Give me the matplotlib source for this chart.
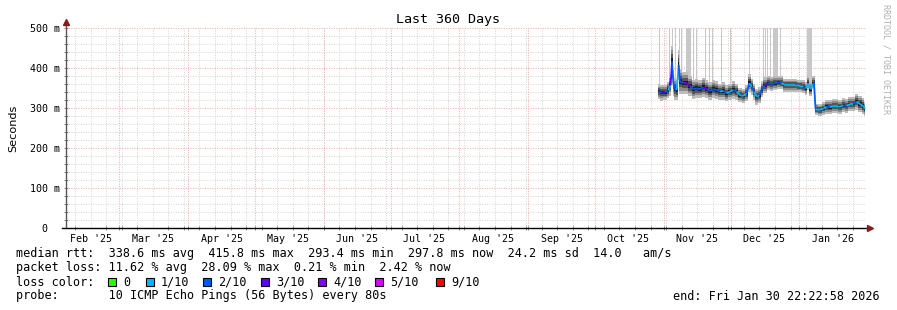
import numpy as np
import matplotlib
matplotlib.use("Agg")
import matplotlib.pyplot as plt
from matplotlib.collections import LineCollection
from matplotlib.patches import Rectangle
from datetime import datetime, timedelta

start = datetime(2025, 2, 4, 22, 22, 58)
span_days = 360

# days since start of graph, median rtt (ms), smoke half width (ms), loss (tenths)
days = [266.5, 268.0, 269.5, 271.0, 272.1, 272.7, 273.3, 274.0, 274.8, 275.7,
        276.3, 277.8, 279.3, 280.8, 282.3, 283.8, 285.3, 286.8, 288.3, 289.8,
        291.3, 292.8, 294.3, 295.8, 297.3, 298.8, 300.3, 301.8, 303.3, 304.8,
        306.3, 307.5, 308.6, 309.6, 310.8, 312.0, 313.1, 314.5, 316.0, 317.5,
        319.0, 320.5, 322.0, 323.5, 325.8, 328.0, 330.3, 331.8, 333.0, 334.0,
        335.1, 336.6, 337.3, 339.3, 340.8, 342.3, 343.8, 345.3, 346.8, 348.3,
        349.8, 351.3, 352.8, 354.3, 355.8, 357.3, 358.8, 359.6]
median = [341, 338, 339, 345, 357, 416, 362, 347, 345, 407,
          366, 363, 362, 355, 347, 349, 347, 352, 347, 343,
          347, 345, 341, 343, 337, 341, 345, 341, 332, 330,
          337, 362, 353, 341, 328, 332, 347, 357, 362, 360,
          362, 364, 363, 357, 357, 357, 355, 353, 349, 362,
          347, 363, 297, 295, 299, 303, 302, 305, 305, 303,
          307, 305, 310, 310, 316, 310, 305, 298]
spread = [18, 20, 18, 20, 26, 40, 32, 28, 26, 38,
          32, 28, 28, 26, 24, 24, 22, 24, 22, 22,
          22, 22, 20, 22, 20, 20, 22, 20, 18, 18,
          20, 22, 20, 20, 20, 20, 20, 20, 18, 18,
          18, 16, 16, 16, 16, 16, 16, 16, 16, 18,
          18, 16, 14, 14, 16, 18, 18, 18, 18, 18,
          18, 18, 18, 18, 20, 20, 20, 18]
loss = [2, 3, 2, 1, 3, 2, 2, 2, 1, 2,
        2, 4, 3, 2, 2, 2, 2, 3, 2, 2,
        2, 2, 1, 2, 1, 1, 2, 1, 1, 1,
        2, 1, 2, 1, 1, 2, 2, 3, 2, 2,
        2, 2, 1, 1, 1, 1, 1, 2, 1, 1,
        1, 2, 1, 1, 1, 2, 1, 1, 1, 1,
        2, 1, 1, 2, 1, 1, 1, 2]

# pings above the top of the graph: start day and width (days)
over_start = [266.9, 268.0, 271.5, 272.8, 274.0, 275.9, 276.8, 279.0, 282.3, 283.4,
              286.0, 287.5, 289.5, 290.7, 294.8, 298.9, 307.5, 313.6, 314.6, 315.6,
              316.9, 318.0, 321.4, 333.3]
over_width = [0.4, 0.4, 0.5, 0.5, 0.4, 0.4, 0.5, 2.2, 0.5, 0.5,
              0.4, 0.4, 0.5, 0.4, 0.4, 0.4, 0.5, 0.4, 0.4, 0.4,
              0.4, 2.2, 0.4, 2.6]

loss_colors = {0: "#26ff00", 1: "#00b8ff", 2: "#0059ff", 3: "#5e00ff",
               4: "#7e00ff", 5: "#dd00ff", 9: "#ff0000"}
legend_loss = [0, 1, 2, 3, 4, 5, 9]
legend_labels = ["0", "1/10", "2/10", "3/10", "4/10", "5/10", "9/10"]

line_rtt = "median rtt:  338.6 ms avg  415.8 ms max  293.4 ms min  297.8 ms now  24.2 ms sd  14.0   am/s"
line_loss = "packet loss: 11.62 % avg  28.09 % max  0.21 % min  2.42 % now"
line_probe = "probe:       10 ICMP Echo Pings (56 Bytes) every 80s"
line_end = "end: Fri Jan 30 22:22:58 2026"

mono = "DejaVu Sans Mono"
W, H = 897, 310
fig = plt.figure(figsize=(W / 100, H / 100), dpi=100)
ax = fig.add_axes([66 / W, 1 - 228 / H, 800 / W, 200 / H])
ax.set_xlim(0, span_days)
ax.set_ylim(0, 500)
for s in ax.spines.values():
    s.set_visible(False)


def day_of(t):
    return (t - start).total_seconds() / 86400


# month starts and week lines
month_days = []
label_days = []
label_text = []
y, m = 2025, 2
while True:
    t = datetime(y, m, 1)
    if day_of(t) > span_days:
        break
    if day_of(t) > 0:
        month_days.append(day_of(t))
    mid = day_of(t + timedelta(days=15))
    if 0 < mid < span_days:
        label_days.append(mid)
        label_text.append(t.strftime("%b '%y"))
    m += 1
    if m > 12:
        m, y = 1, y + 1

week_days = []
w = datetime(2025, 2, 9)
while day_of(w) < span_days:
    week_days.append(day_of(w))
    w += timedelta(days=7)

dot = (0, (1, 1.5))
for d in week_days:
    ax.axvline(d, color="#d4d4d4", lw=0.7, ls=dot, zorder=0)
for v in range(20, 501, 20):
    if v % 100:
        ax.axhline(v, color="#d4d4d4", lw=0.7, ls=dot, zorder=0)
for d in month_days:
    ax.axvline(d, color="#f2a8a8", lw=0.7, ls=dot, zorder=0)
for v in range(100, 501, 100):
    ax.axhline(v, color="#f2a8a8", lw=0.7, ls=dot, zorder=0)

days_a = np.array(days)
med_a = np.array(median, dtype=float)
spr_a = np.array(spread, dtype=float)

# outliers going off the top
base = np.interp(np.array(over_start), days_a, med_a) + 10
ax.bar(over_start, 500 - base, width=over_width, bottom=base, align="edge",
       color="#c8c8c8", lw=0, zorder=1)

# smoke
for frac, col in [(1.0, "#bdbdbd"), (0.7, "#8c8c8c"), (0.45, "#555555"), (0.2, "#1e1e1e")]:
    ax.fill_between(days_a, med_a - frac * spr_a, med_a + frac * spr_a,
                    step="mid", color=col, lw=0, zorder=2)

# median line colored by loss
segs = [[(days[i], median[i]), (days[i + 1], median[i + 1])] for i in range(len(days) - 1)]
cols = [loss_colors[l] for l in loss[:-1]]
ax.add_collection(LineCollection(segs, colors=cols, linewidths=1.3, zorder=3))

# axes with arrows
ax.plot([0, 0], [0, 516], color="#555555", lw=1, clip_on=False, zorder=4)
ax.plot([0], [516], marker="^", color="#8b1a1a", ms=4, clip_on=False, zorder=5)
ax.plot([-2, 361.5], [0, 0], color="black", lw=1, clip_on=False, zorder=4)
ax.plot([361.8], [0], marker=">", color="#8b1a1a", ms=4, clip_on=False, zorder=5)

# ticks
ax.set_xticks(label_days)
ax.set_xticklabels(label_text, fontfamily=mono, fontsize=7.2)
ax.set_xticks(month_days + week_days, minor=True)
ax.tick_params(axis="x", which="major", length=0, pad=4)
ax.tick_params(axis="x", which="minor", length=3, direction="inout", color="#777777", width=0.6)
ax.set_yticks(range(0, 501, 100))
ax.set_yticklabels(["0  "] + ["%d m" % v for v in range(100, 501, 100)],
                   fontfamily=mono, fontsize=7.2)
ax.set_yticks(range(0, 501, 20), minor=True)
ax.tick_params(axis="y", which="both", length=3, direction="inout", color="#777777",
               width=0.6, pad=3)
ax.set_ylabel("Seconds", fontfamily="DejaVu Sans", fontsize=8.1, labelpad=8)


def fx(px):
    return px / W


def fy(py):
    return 1 - py / H


fig.text(fx(448), fy(19), "Last 360 Days", ha="center", va="center",
         fontfamily=mono, fontsize=9.6)
fig.text(fx(886), fy(4), "RRDTOOL / TOBI OETIKER", ha="center", va="top",
         rotation=270, fontfamily=mono, fontsize=6, color="#b0b0b0")

fs = 8.5
fig.text(fx(16), fy(254), line_rtt, ha="left", va="center", fontfamily=mono, fontsize=fs)
fig.text(fx(16), fy(268), line_loss, ha="left", va="center", fontfamily=mono, fontsize=fs)
fig.text(fx(16), fy(282), "loss color:", ha="left", va="center", fontfamily=mono, fontsize=fs)
box_x = [108, 146, 203, 261, 318, 375, 436]
for bx, l, lab in zip(box_x, legend_loss, legend_labels):
    fig.patches.append(Rectangle((fx(bx), fy(286)), 8 / W, 8 / H, transform=fig.transFigure,
                                 facecolor=loss_colors[l], edgecolor="black", lw=0.8))
    fig.text(fx(bx + 15), fy(282), lab, ha="left", va="center", fontfamily=mono, fontsize=fs)
fig.text(fx(16), fy(296), line_probe, ha="left", va="center", fontfamily=mono, fontsize=fs)
fig.text(fx(880), fy(296), line_end, ha="right", va="center", fontfamily=mono, fontsize=fs)

fig.savefig("out.png", dpi=100)
